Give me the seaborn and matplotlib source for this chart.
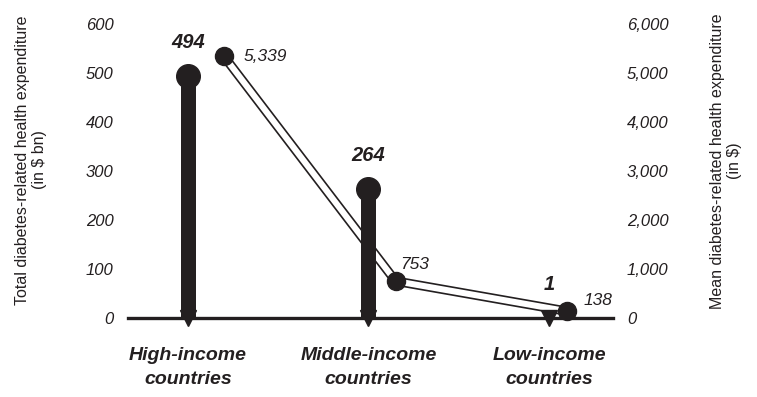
import matplotlib
matplotlib.use("Agg")
import matplotlib.pyplot as plt
import seaborn as sns

# data
categories = ["High-income\ncountries", "Middle-income\ncountries", "Low-income\ncountries"]
total_bn = [494, 264, 1]            # left axis, $ bn
mean_usd = [5339, 753, 138]         # right axis, $
line_offsets = [0.20, 0.15, 0.10]   # mean-expenditure points sit just right of each stem

left_ticks = [0, 100, 200, 300, 400, 500, 600]
right_ticks = [0, 1000, 2000, 3000, 4000, 5000, 6000]

sns.set_style("white")
plt.rcParams["font.family"] = ["Liberation Sans", "DejaVu Sans"]
ink = "#231f20"

fig = plt.figure(figsize=(7.57, 3.97), dpi=100)
ax = fig.add_axes([0.169, 0.199, 0.641, 0.7406])
ax2 = ax.twinx()

xs = list(range(len(categories)))
line_x = [x + o for x, o in zip(xs, line_offsets)]

# right axis: double (outlined) line
sns.lineplot(x=line_x, y=mean_usd, ax=ax2, color=ink, lw=6.8, sort=False,
             solid_capstyle="butt")
sns.lineplot(x=line_x, y=mean_usd, ax=ax2, color="white", lw=4.4, sort=False,
             solid_capstyle="butt")
ax2.plot(line_x, mean_usd, "o", color=ink, ms=13, clip_on=False, zorder=5)
label_offsets = [(14, 0), (3, 12), (12, 8)]
for x, v, off in zip(line_x, mean_usd, label_offsets):
    ax2.annotate(f"{v:,}", (x, v), xytext=off, textcoords="offset points",
                 ha="left", va="center", fontsize=12.5, style="italic", color=ink)

# left axis: lollipop stems with arrow tips below the baseline
ax.vlines(xs, 0, total_bn, color=ink, lw=10.8, zorder=3)
ax.plot(xs, [0] * len(xs), "v", color=ink, ms=12, clip_on=False, zorder=3)
big = [(x, v) for x, v in zip(xs, total_bn) if v > 20]
ax.plot([b[0] for b in big], [b[1] for b in big], "o", color=ink, ms=17,
        clip_on=False, zorder=4)
for x, v in zip(xs, total_bn):
    ax.annotate(f"{v}", (x, v), xytext=(0, 17), textcoords="offset points",
                ha="center", va="bottom", fontsize=14.5, fontweight="bold",
                style="italic", color=ink)

ax.set_zorder(ax2.get_zorder() + 1)
ax.patch.set_visible(False)

ax.set_xlim(-0.332, 2.355)
ax.set_ylim(0, 600)
ax2.set_ylim(0, 6000)

ax.set_yticks(left_ticks)
ax.set_yticklabels([str(t) for t in left_ticks], fontsize=12, style="italic", color=ink)
ax2.set_yticks(right_ticks)
ax2.set_yticklabels([f"{t:,}" for t in right_ticks], fontsize=12, style="italic", color=ink)
ax.tick_params(axis="y", length=0, pad=10.5)
ax2.tick_params(axis="y", length=0, pad=10)

ax.set_xticks(xs)
ax.set_xticklabels(categories, fontsize=14, fontweight="bold", style="italic",
                   color=ink, linespacing=1.55)
ax.tick_params(axis="x", length=0, pad=21)

for a in (ax, ax2):
    for s in ["top", "left", "right", "bottom"]:
        a.spines[s].set_visible(False)
ax.spines["bottom"].set_visible(True)
ax.spines["bottom"].set_linewidth(2.4)
ax.spines["bottom"].set_color(ink)

fig.text(0.041, 0.597, "Total diabetes-related health expenditure\n(in $ bn)",
         rotation=90, ha="center", va="center", multialignment="center",
         fontsize=11.5, color=ink)
fig.text(0.959, 0.595, "Mean diabetes-related health expenditure\n(in $)",
         rotation=90, ha="center", va="center", multialignment="center",
         fontsize=11.5, color=ink)

fig.savefig("out.png", dpi=100)
